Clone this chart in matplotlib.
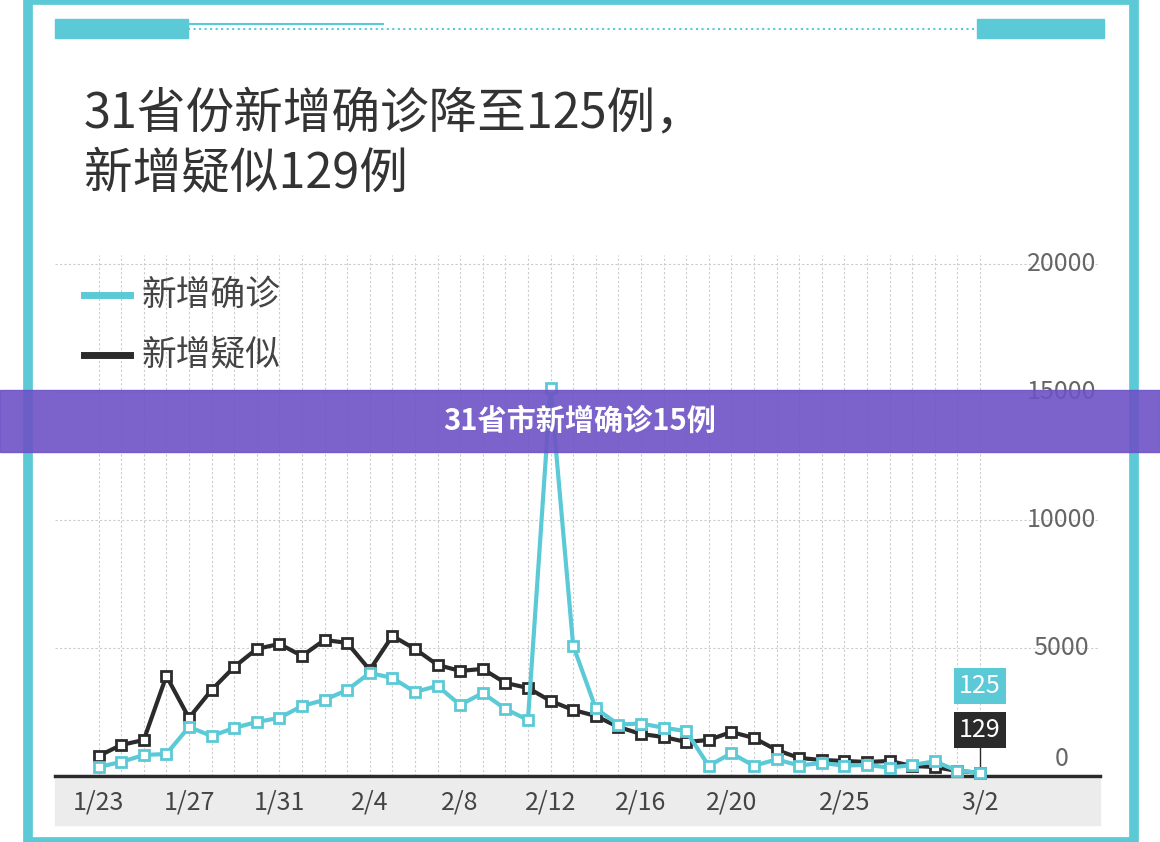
import matplotlib.pyplot as plt
import matplotlib.patches as patches
import numpy as np

plt.rcParams['font.family'] = ['Noto Sans CJK SC', 'DejaVu Sans']

# data, one value per day 1/23 .. 3/2
days = list(range(40))
tick_pos = [0, 4, 8, 12, 16, 20, 24, 28, 33, 39]
tick_labels = ['1/23', '1/27', '1/31', '2/4', '2/8', '2/12', '2/16', '2/20', '2/25', '3/2']
confirmed = [351, 547, 820, 859, 1914, 1562, 1875, 2109, 2266, 2734, 2969, 3359, 4023, 3828,
             3281, 3516, 2773, 3242, 2617, 2188, 15152, 5090, 2641, 2009, 2048, 1886, 1749,
             394, 889, 397, 648, 409, 508, 406, 433, 327, 427, 573, 202, 125]
suspected = [781, 1211, 1406, 3906, 2266, 3359, 4258, 4961, 5156, 4688, 5313, 5195, 4141, 5469,
             4961, 4336, 4102, 4180, 3633, 3438, 2930, 2578, 2344, 1914, 1641, 1523, 1328, 1406,
             1719, 1484, 1016, 703, 625, 586, 547, 586, 391, 352, 195, 129]
ytick_vals = [0, 5000, 10000, 15000, 20000]

cyan = '#5bcad6'
dark = '#2b2b2b'

fig = plt.figure(figsize=(11.6, 8.42), dpi=100)
fig.patch.set_facecolor('white')

# frame and top decoration
fig.add_artist(patches.Rectangle((0.024, 0.0), 0.954, 1.0, transform=fig.transFigure,
                                 fill=False, edgecolor=cyan, linewidth=7))
fig.add_artist(patches.Rectangle((0.047, 0.955), 0.115, 0.022, transform=fig.transFigure, color=cyan))
fig.add_artist(patches.Rectangle((0.842, 0.955), 0.11, 0.022, transform=fig.transFigure, color=cyan))
fig.add_artist(plt.Line2D([0.162, 0.842], [0.966, 0.966], transform=fig.transFigure,
                          color=cyan, linewidth=1.5, linestyle=':'))
fig.add_artist(plt.Line2D([0.162, 0.33], [0.972, 0.972], transform=fig.transFigure,
                          color=cyan, linewidth=1.5))

# x label band
fig.add_artist(patches.Rectangle((0.047, 0.02), 0.901, 0.055, transform=fig.transFigure,
                                 color='#ececec', zorder=0))

ax = fig.add_axes([0.047, 0.0784, 0.901, 0.619])
ax.set_xlim(-1.95, 44.3)
ax.set_ylim(0, 20350)
for d in days:
    ax.axvline(d, color='#cccccc', linestyle=(0, (2, 2)), linewidth=0.8, zorder=0)
for v in ytick_vals[1:]:
    ax.axhline(v, color='#cccccc', linestyle=(0, (2, 2)), linewidth=0.8, zorder=0)

ax.plot(days, suspected, color=dark, linewidth=3, marker='s', markersize=7,
        markerfacecolor='white', markeredgewidth=2, clip_on=False, zorder=3)
ax.plot(days, confirmed, color=cyan, linewidth=3, marker='s', markersize=7,
        markerfacecolor='white', markeredgewidth=2, clip_on=False, zorder=4)

for s in ['top', 'right', 'left']:
    ax.spines[s].set_visible(False)
ax.spines['bottom'].set_linewidth(2.5)
ax.spines['bottom'].set_color(dark)

ax.set_yticks([])
for v in ytick_vals:
    yy = v if v > 0 else 650
    ax.text(42.6, yy, str(v), ha='center', va='center', fontsize=18, color='#666666')
ax.set_xticks(tick_pos)
ax.set_xticklabels(tick_labels, fontsize=18, color='#444444')
ax.tick_params(axis='x', length=0, pad=10)

# end value tags
ax.text(39, 3500, str(confirmed[-1]), ha='center', va='center', fontsize=18,
        color='white', bbox=dict(boxstyle='square,pad=0.2', fc=cyan, ec='none'))
ax.text(39, 1800, str(suspected[-1]), ha='center', va='center', fontsize=18,
        color='white', bbox=dict(boxstyle='square,pad=0.2', fc=dark, ec='none'))
ax.plot([39, 39], [200, 1200], color=dark, linewidth=1)

# title and legend
fig.text(0.072, 0.895, '31省份新增确诊降至125例，\n新增疑似129例', fontsize=35, color='#333333',
         va='top', linespacing=1.3, fontweight='medium')
fig.add_artist(plt.Line2D([0.072, 0.112], [0.65, 0.65], transform=fig.transFigure, color=cyan, linewidth=5))
fig.add_artist(plt.Line2D([0.072, 0.112], [0.578, 0.578], transform=fig.transFigure, color=dark, linewidth=5))
fig.text(0.122, 0.65, '新增确诊', fontsize=25, color='#444444', va='center')
fig.text(0.122, 0.578, '新增疑似', fontsize=25, color='#444444', va='center')

# overlay banner
fig.add_artist(patches.Rectangle((0.0, 0.463), 1.0, 0.074, transform=fig.transFigure,
                                 color='#6e52c6', alpha=0.9, zorder=10))
fig.text(0.5, 0.5, '31省市新增确诊15例', fontsize=21, color='white', fontweight='bold',
         ha='center', va='center', zorder=11)

fig.savefig('out.png', dpi=100)
